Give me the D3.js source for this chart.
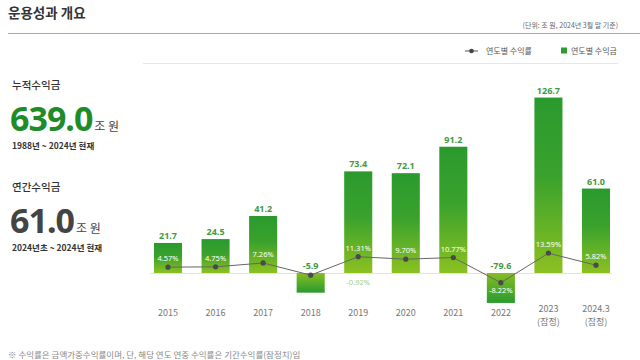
<!DOCTYPE html>
<html><head><meta charset="utf-8">
<script src="https://cdn.jsdelivr.net/npm/d3@7"></script>
<style>
html,body{margin:0;padding:0;background:#fff;overflow:hidden;}
svg{display:block;font-family:"Noto Sans CJK KR","Noto Sans",sans-serif;}
</style></head>
<body>
<svg id="c" width="640" height="360"></svg>
<script>
const categories = ["2015","2016","2017","2018","2019","2020","2021","2022","2023","2024.3"];
const categorySub = ["","","","","","","","","(잠정)","(잠정)"];
const profits = [21.7, 24.5, 41.2, -5.9, 73.4, 72.1, 91.2, -79.6, 126.7, 61.0];
const returns = [4.57, 4.75, 7.26, -0.92, 11.31, 9.70, 10.77, -8.22, 13.59, 5.82];
const title = "운용성과 개요";
const unitText = "(단위: 조 원, 2024년 3월 말 기준)";
const legendLabels = ["연도별 수익률", "연도별 수익금"];
const summary = [
  {label:"누적수익금", value:"639.0", unit:"조 원", period:"1988년 ~ 2024년 현재"},
  {label:"연간수익금", value:"61.0", unit:"조 원", period:"2024년초 ~ 2024년 현재"}
];
const footnote = "※ 수익률은 금액가중수익률이며, 단, 해당 연도 연중 수익률은 기간수익률(잠정치)임";

const svg = d3.select("#c");
const defs = svg.append("defs");
const gPos = defs.append("linearGradient").attr("id","gPos").attr("x1",0).attr("y1",0).attr("x2",0).attr("y2",1);
gPos.append("stop").attr("offset","0%").attr("stop-color","#2a9a2e");
gPos.append("stop").attr("offset","45%").attr("stop-color","#3aa22c");
gPos.append("stop").attr("offset","100%").attr("stop-color","#8cc121");
const gNeg = defs.append("linearGradient").attr("id","gNeg").attr("x1",0).attr("y1",0).attr("x2",0).attr("y2",1);
gNeg.append("stop").attr("offset","0%").attr("stop-color","#86be22");
gNeg.append("stop").attr("offset","100%").attr("stop-color","#2a9a2e");

// Header
svg.append("text").attr("x",8).attr("y",18).attr("font-size",13.5).attr("font-weight",700)
  .attr("fill","#333").text(title);
svg.append("line").attr("x1",8).attr("x2",640).attr("y1",33.5).attr("y2",33.5)
  .attr("stroke","#a8a8a8").attr("stroke-width",1);
svg.append("text").attr("x",618).attr("y",28).attr("text-anchor","end").attr("font-size",7)
  .attr("fill","#666").text(unitText);

// Legend
const lg = svg.append("g");
lg.append("line").attr("x1",465).attr("x2",478).attr("y1",51).attr("y2",51).attr("stroke","#555").attr("stroke-width",1);
lg.append("circle").attr("cx",471.5).attr("cy",51).attr("r",2.3).attr("fill","#444");
lg.append("text").attr("x",486).attr("y",54).attr("font-size",8).attr("fill","#555").text(legendLabels[0]);
lg.append("rect").attr("x",561).attr("y",47.5).attr("width",6).attr("height",6).attr("fill","#2e9b2e");
lg.append("text").attr("x",571).attr("y",54).attr("font-size",8).attr("fill","#555").text(legendLabels[1]);
svg.append("line").attr("x1",143).attr("x2",618).attr("y1",63.5).attr("y2",63.5)
  .attr("stroke","#e6e6e6").attr("stroke-width",1);

// Left summary
const sy = [0, 102];
summary.forEach((s,i)=>{
  const g = svg.append("g").attr("transform",`translate(0,${sy[i]})`);
  g.append("text").attr("x",12).attr("y",89).attr("font-size",10.5).attr("font-weight",500).attr("fill","#333").text(s.label);
  const big = g.append("text").attr("x",10).attr("y",131).attr("font-family","'Noto Sans','Open Sans',sans-serif")
    .attr("font-size",34).attr("font-weight",700).attr("letter-spacing",-1)
    .attr("fill", i===0 ? "#1f8c2a" : "#444").text(s.value);
  const w = big.node().getComputedTextLength();
  g.append("text").attr("x",10+w+2).attr("y",131).attr("font-size",12).attr("fill","#444").text(s.unit);
  g.append("text").attr("x",12).attr("y",149).attr("font-size",8.5).attr("font-weight",700).attr("fill","#333").text(s.period);
});

// Chart scales
const x = d3.scaleBand().domain(categories).range([144,620]).paddingInner(0.41).paddingOuter(0.21);
const y = d3.scaleLinear().domain([-80,-6,0,130]).range([303,293,273,93]);
const yr = d3.scaleLinear().domain([-10,0,15]).range([284.5,274.2,251]);

// zero line
svg.append("line").attr("x1",150).attr("x2",612).attr("y1",y(0)+0.5).attr("y2",y(0)+0.5)
  .attr("stroke","#e3e3e3").attr("stroke-width",1);

const data = categories.map((c,i)=>({c, sub:categorySub[i], v:profits[i], r:returns[i], i}));

svg.append("g").selectAll("rect").data(data).join("rect")
  .attr("x",d=>x(d.c)).attr("width",x.bandwidth())
  .attr("y",d=>Math.min(y(d.v),y(0))).attr("height",d=>Math.abs(y(d.v)-y(0)))
  .attr("fill",d=>d.v>=0?"url(#gPos)":"url(#gNeg)");

// value labels
svg.append("g").selectAll("text").data(data).join("text")
  .attr("x",d=>x(d.c)+x.bandwidth()/2)
  .attr("y",d=> d.v>=0 ? y(d.v)-4 : y(0)-4)
  .attr("text-anchor","middle").attr("font-size",9).attr("font-weight",700)
  .attr("font-family","'Noto Sans','Open Sans',sans-serif")
  .attr("fill","#3f9a44").text(d=>d.v.toFixed(1));

// return line
const cx = d=>x(d.c)+x.bandwidth()/2;
svg.append("path").datum(data)
  .attr("d", d3.line().x(cx).y(d=>yr(d.r)))
  .attr("fill","none").attr("stroke","#666").attr("stroke-width",1);
svg.append("g").selectAll("circle").data(data).join("circle")
  .attr("cx",cx).attr("cy",d=>yr(d.r)).attr("r",2.6).attr("fill","#4a4a4a");

// return labels
svg.append("g").selectAll("text").data(data).join("text")
  .attr("x",d=> (d.r<0 && d.v>-20) ? cx(data[d.i+1]) : cx(d))
  .attr("y",d=> d.r<0 ? yr(d.r)+10 : yr(d.r)-6)
  .attr("text-anchor","middle").attr("font-size",7.5)
  .attr("font-family","'Noto Sans','Open Sans',sans-serif")
  .attr("fill",d=> (d.r<0 && d.v>-20) ? "#9fcf8a" : "#fff")
  .text(d=>d.r.toFixed(2)+"%");

// x labels
const xl = svg.append("g").selectAll("g").data(data).join("g")
  .attr("transform",d=>`translate(${cx(d)},0)`);
xl.append("text").attr("y",d=> d.sub ? 312 : 316).attr("text-anchor","middle")
  .attr("font-size",9).attr("fill","#777").text(d=>d.c);
xl.filter(d=>d.sub).append("text").attr("y",325).attr("text-anchor","middle")
  .attr("font-size",9).attr("fill","#777").text(d=>d.sub);

// footnote
svg.append("text").attr("x",8).attr("y",358).attr("font-size",8.5).attr("fill","#888").text(footnote);
</script>
</body></html>
